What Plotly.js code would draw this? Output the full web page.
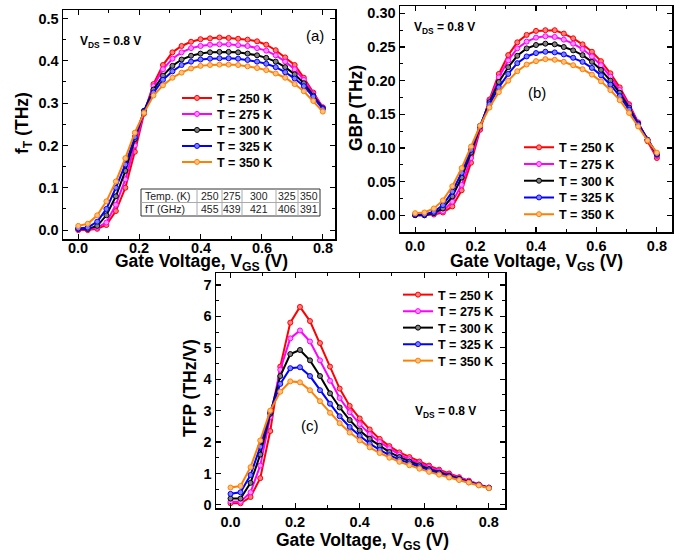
<!DOCTYPE html>
<html>
<head>
<meta charset="utf-8">
<script src="https://cdn.plot.ly/plotly-3.0.1.min.js"></script>
<style>html,body{margin:0;padding:0;background:#fff;}#chart{width:687px;height:554px;}</style>
</head>
<body>
<div id="chart"></div>
<script>
// ---------- DATA ----------
const vgs = [0, 0.031, 0.062, 0.092, 0.123, 0.154, 0.185, 0.215, 0.246, 0.277, 0.308, 0.338, 0.369, 0.4,
             0.431, 0.462, 0.492, 0.523, 0.554, 0.585, 0.615, 0.646, 0.677, 0.708, 0.738, 0.769, 0.8];
const seriesNames = ['T = 250 K', 'T = 275 K', 'T = 300 K', 'T = 325 K', 'T = 350 K'];
const xTickVals = [0, 0.2, 0.4, 0.6, 0.8];
const xTickText = ['0.0', '0.2', '0.4', '0.6', '0.8'];

// (a) fT (THz)
const ft250 = [0.0, 0.0, 0.003, 0.012, 0.045, 0.10, 0.185, 0.275, 0.345, 0.39, 0.42, 0.435, 0.445, 0.451, 0.453, 0.455, 0.454, 0.452, 0.45, 0.446, 0.438, 0.425, 0.408, 0.39, 0.36, 0.325, 0.29];
const ft275 = [0.002, 0.002, 0.006, 0.018, 0.06, 0.12, 0.20, 0.278, 0.34, 0.38, 0.405, 0.42, 0.43, 0.435, 0.438, 0.439, 0.439, 0.437, 0.435, 0.43, 0.424, 0.413, 0.398, 0.38, 0.355, 0.322, 0.29];
const ft300 = [0.003, 0.003, 0.01, 0.035, 0.08, 0.14, 0.215, 0.282, 0.332, 0.365, 0.388, 0.403, 0.412, 0.417, 0.42, 0.421, 0.421, 0.42, 0.417, 0.413, 0.407, 0.398, 0.385, 0.368, 0.347, 0.318, 0.288];
const ft325 = [0.004, 0.006, 0.02, 0.05, 0.10, 0.155, 0.22, 0.28, 0.325, 0.355, 0.375, 0.39, 0.398, 0.403, 0.405, 0.406, 0.406, 0.405, 0.402, 0.398, 0.393, 0.385, 0.373, 0.358, 0.34, 0.315, 0.286];
const ft350 = [0.01, 0.015, 0.035, 0.068, 0.115, 0.17, 0.23, 0.277, 0.318, 0.342, 0.36, 0.372, 0.382, 0.388, 0.39, 0.391, 0.391, 0.39, 0.387, 0.383, 0.378, 0.37, 0.36, 0.345, 0.328, 0.305, 0.28];

// (b) GBP (THz)
const gbp250 = [0.0, 0.0, 0.001, 0.004, 0.013, 0.037, 0.078, 0.127, 0.172, 0.21, 0.238, 0.257, 0.268, 0.274, 0.275, 0.275, 0.27, 0.263, 0.254, 0.243, 0.229, 0.211, 0.19, 0.165, 0.138, 0.11, 0.085];
const gbp275 = [0.0, 0.0, 0.002, 0.006, 0.02, 0.045, 0.085, 0.13, 0.17, 0.205, 0.23, 0.248, 0.258, 0.264, 0.266, 0.265, 0.261, 0.255, 0.247, 0.236, 0.223, 0.206, 0.186, 0.163, 0.137, 0.112, 0.088];
const gbp300 = [0.0, 0.0, 0.003, 0.01, 0.028, 0.056, 0.093, 0.132, 0.168, 0.198, 0.22, 0.237, 0.248, 0.253, 0.255, 0.254, 0.25, 0.245, 0.238, 0.228, 0.216, 0.2, 0.182, 0.16, 0.136, 0.112, 0.09];
const gbp325 = [0.001, 0.001, 0.005, 0.015, 0.035, 0.063, 0.097, 0.133, 0.165, 0.19, 0.21, 0.226, 0.236, 0.241, 0.243, 0.242, 0.239, 0.234, 0.228, 0.219, 0.208, 0.194, 0.177, 0.157, 0.135, 0.112, 0.091];
const gbp350 = [0.003, 0.004, 0.01, 0.022, 0.043, 0.07, 0.102, 0.133, 0.16, 0.183, 0.2, 0.214, 0.224, 0.229, 0.232, 0.231, 0.228, 0.223, 0.217, 0.209, 0.199, 0.186, 0.171, 0.152, 0.132, 0.111, 0.093];

// (c) TFP (THz/V)
const tfp250 = [0.05, 0.05, 0.25, 0.85, 2.35, 4.4, 5.8, 6.3, 5.85, 5.15, 4.4, 3.7, 3.15, 2.75, 2.4, 2.1, 1.87, 1.67, 1.52, 1.38, 1.25, 1.12, 1.0, 0.88, 0.77, 0.65, 0.55];
const tfp275 = [0.1, 0.1, 0.4, 1.25, 2.8, 4.3, 5.3, 5.55, 5.2, 4.6, 3.95, 3.4, 2.95, 2.57, 2.25, 2.0, 1.8, 1.6, 1.45, 1.32, 1.2, 1.08, 0.97, 0.86, 0.75, 0.64, 0.55];
const tfp300 = [0.2, 0.2, 0.7, 1.6, 2.9, 4.1, 4.8, 4.93, 4.6, 4.1, 3.55, 3.1, 2.7, 2.37, 2.1, 1.88, 1.68, 1.52, 1.38, 1.26, 1.14, 1.03, 0.93, 0.83, 0.73, 0.63, 0.54];
const tfp325 = [0.35, 0.4, 0.95, 1.85, 2.95, 3.85, 4.35, 4.38, 4.1, 3.65, 3.22, 2.82, 2.48, 2.2, 1.95, 1.75, 1.58, 1.44, 1.32, 1.2, 1.1, 1.0, 0.9, 0.81, 0.72, 0.63, 0.54];
const tfp350 = [0.55, 0.6, 1.2, 2.05, 3.0, 3.6, 3.93, 3.9, 3.65, 3.3, 2.93, 2.6, 2.3, 2.05, 1.83, 1.65, 1.5, 1.37, 1.26, 1.15, 1.05, 0.96, 0.87, 0.79, 0.71, 0.62, 0.53];

// Table in panel (a)
const tableRowLabels = ['Temp. (K)', 'fT (GHz)'];
const tableTemps = ['250', '275', '300', '325', '350'];
const tableFt = ['455', '439', '421', '406', '391'];

// ---------- STYLE ----------
const colors = ['#FF0000', '#FF00FF', '#000000', '#0000FF', '#FF8000'];
const fills  = ['#FF8080', '#FF90FF', '#808080', '#8080FF', '#FFC080'];
const FONT = 'Liberation Sans, Arial, sans-serif';
const W = 687, H = 554;
const px = x => x / W, py = y => 1 - y / H;

const legFont = {family: FONT, size: 12.5, color: '#000', weight: 700};
const layoutLegends = {};
let legCount = 0;
function makeLegend(x, y) {
  legCount++;
  const key = legCount === 1 ? 'legend' : 'legend' + legCount;
  layoutLegends[key] = {x: px(x), y: py(y), xanchor: 'left', yanchor: 'middle',
    bgcolor: 'rgba(0,0,0,0)', font: legFont, itemwidth: 30, borderwidth: 0};
  return key;
}

const traces = [];
function addPanel(ys, xa, ya, legX, legY0, legDy) {
  ys.forEach((y, i) => {
    const lk = makeLegend(legX, legY0 + legDy * i);
    traces.push({
      x: vgs, y: y, type: 'scatter', mode: 'lines+markers',
      name: seriesNames[i], xaxis: xa, yaxis: ya, legend: lk,
      line: {color: colors[i], width: 2},
      marker: {symbol: 'circle', size: 5, color: fills[i], line: {color: colors[i], width: 1}}
    });
  });
}
addPanel([ft250, ft275, ft300, ft325, ft350], 'x', 'y', 177, 98.3, 16);
addPanel([gbp250, gbp275, gbp300, gbp325, gbp350], 'x2', 'y2', 519, 147.7, 16.7);
addPanel([tfp250, tfp275, tfp300, tfp325, tfp350], 'x3', 'y3', 398, 295, 16.5);

const tickFont = {family: FONT, size: 14.5, color: '#000', weight: 700};
function xAxis(dom, anchor, range, showLabels) {
  return {
    domain: dom, anchor: anchor, range: range,
    tickvals: xTickVals, ticktext: xTickText, showticklabels: showLabels,
    ticks: 'inside', ticklen: 5, tickwidth: 1.2, tickcolor: '#000',
    minor: {ticks: 'inside', ticklen: 3, tickwidth: 1, tickcolor: '#000', dtick: 0.1},
    showline: true, linecolor: '#000', linewidth: 1.5, mirror: 'ticks',
    showgrid: false, zeroline: false, tickfont: tickFont
  };
}
function yAxis(dom, anchor, range, dtick, fmt, minorDtick) {
  return {
    domain: dom, anchor: anchor, range: range, dtick: dtick, tick0: 0, tickformat: fmt,
    ticks: 'inside', ticklen: 5, tickwidth: 1.2, tickcolor: '#000',
    minor: {ticks: 'inside', ticklen: 3, tickwidth: 1, tickcolor: '#000', dtick: minorDtick},
    showline: true, linecolor: '#000', linewidth: 1.5, mirror: 'ticks',
    showgrid: false, zeroline: false, tickfont: tickFont
  };
}

const titleFont = {family: FONT, size: 17.5, color: '#000', weight: 700};
const ann = [];
function a(text, x, y, opts) {
  ann.push(Object.assign({text: text, xref: 'paper', yref: 'paper', x: px(x), y: py(y),
    showarrow: false, xanchor: 'center', yanchor: 'middle'}, opts || {}));
}
// panel (a) x tick labels sit closer to the frame than Plotly's default
xTickVals.forEach((v, k) => {
  ann.push({text: xTickText[k], xref: 'x', yref: 'paper', x: v, y: py(247.5),
    showarrow: false, xanchor: 'center', yanchor: 'middle', font: tickFont});
});
const vdsFont = {family: FONT, size: 12, color: '#000', weight: 700};
const lblFont = {family: FONT, size: 15, color: '#000'};
a('V<sub>DS</sub> = 0.8 V', 78, 42, {xanchor: 'left', font: vdsFont});
a('(a)', 315, 35, {font: lblFont});
a('V<sub>DS</sub> = 0.8 V', 412, 28, {xanchor: 'left', font: vdsFont});
a('(b)', 537, 92, {font: lblFont});
a('V<sub>DS</sub> = 0.8 V', 413, 412, {xanchor: 'left', font: vdsFont});
a('(c)', 310, 425, {font: lblFont});
a('f<sub>T</sub> (THz)', 23, 123, {textangle: -90, font: titleFont});
a('Gate Voltage, V<sub>GS</sub> (V)', 201, 262, {font: titleFont});
a('GBP (THz)', 356, 108, {textangle: -90, font: titleFont});
a('Gate Voltage, V<sub>GS</sub> (V)', 536, 262, {font: titleFont});
a('TFP (THz/V)', 190, 388, {textangle: -90, font: titleFont});
a('Gate Voltage, V<sub>GS</sub> (V)', 362, 541, {font: titleFont});

// ---- table in panel (a): frame as shapes, texts from the arrays ----
const tblX = [141, 197, 222, 242, 276, 298, 320];
const tblTop = 189, tblMid = 202.5, tblBot = 216;
const shapes = [];
const tblFont = {family: FONT, size: 10.5, color: '#222'};
shapes.push({type: 'rect', xref: 'paper', yref: 'paper', x0: px(tblX[0]), x1: px(tblX[6]),
  y0: py(tblBot), y1: py(tblTop), line: {color: '#333', width: 1}, fillcolor: 'white', layer: 'below'});
shapes.push({type: 'line', xref: 'paper', yref: 'paper', x0: px(tblX[0]), x1: px(tblX[6]),
  y0: py(tblMid), y1: py(tblMid), line: {color: '#aaa', width: 1}});
for (let k = 1; k < 6; k++) {
  shapes.push({type: 'line', xref: 'paper', yref: 'paper', x0: px(tblX[k]), x1: px(tblX[k]),
    y0: py(tblBot), y1: py(tblTop), line: {color: '#aaa', width: 1}});
}
const rowY = [(tblTop + tblMid) / 2, (tblMid + tblBot) / 2];
a(tableRowLabels[0], tblX[0] + 2, rowY[0], {xanchor: 'left', font: tblFont});
a(tableRowLabels[1], tblX[0] + 2, rowY[1], {xanchor: 'left', font: tblFont});
tableTemps.forEach((t, k) => {
  a(t, (tblX[k + 1] + tblX[k + 2]) / 2, rowY[0], {font: tblFont});
  a(tableFt[k], (tblX[k + 1] + tblX[k + 2]) / 2, rowY[1], {font: tblFont});
});

const layout = Object.assign({
  width: W, height: H,
  margin: {l: 0, r: 0, t: 0, b: 0},
  paper_bgcolor: '#fff', plot_bgcolor: 'rgba(0,0,0,0)',
  font: {family: FONT, color: '#000'},
  xaxis: xAxis([px(63), px(335)], 'y', [-0.05, 0.84], false),
  yaxis: yAxis([py(239), py(10)], 'x', [-0.021, 0.52], 0.1, '.1f', 0.05),
  xaxis2: xAxis([px(400), px(672)], 'y2', [-0.05, 0.85], true),
  yaxis2: yAxis([py(232), py(6)], 'x2', [-0.025, 0.311], 0.05, '.2f', 0.025),
  xaxis3: xAxis([px(216), px(505)], 'y3', [-0.045, 0.85], true),
  yaxis3: yAxis([py(508), py(273)], 'x3', [-0.1, 7.38], 1, 'd', 0.5),
  annotations: ann,
  shapes: shapes,
  showlegend: true
}, layoutLegends);

Plotly.newPlot('chart', traces, layout, {displayModeBar: false, staticPlot: true});
</script>
</body>
</html>
